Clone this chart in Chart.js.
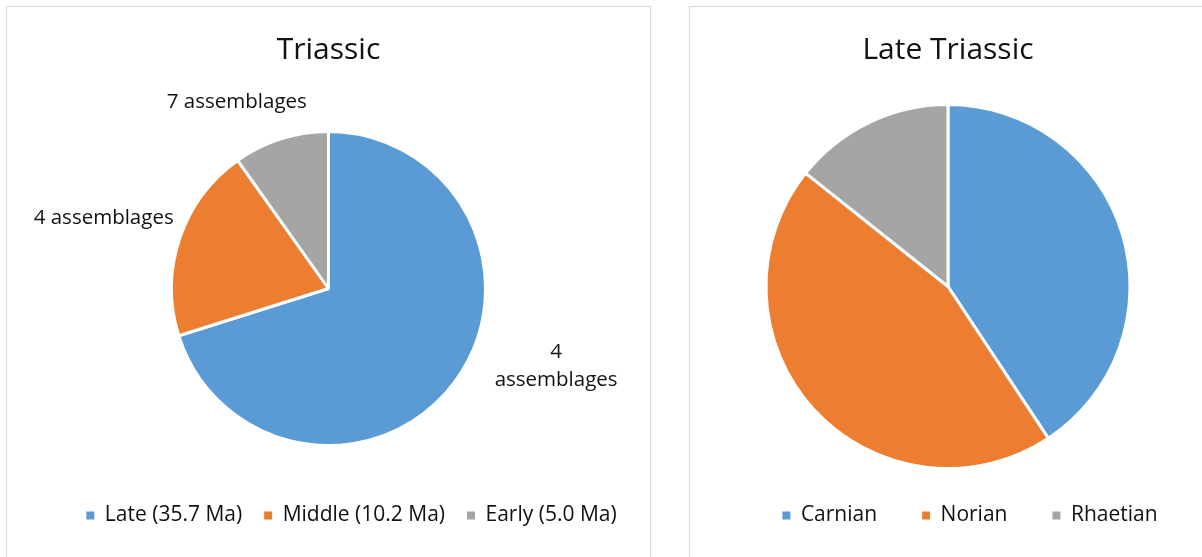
<!DOCTYPE html>
<html>
<head>
<meta charset="utf-8">
<title>Triassic assemblages</title>
<script src="https://cdn.jsdelivr.net/npm/chart.js@4"></script>
<style>
  html, body {
    margin: 0;
    padding: 0;
    background: #ffffff;
    overflow: hidden;
  }
  .panel {
    position: absolute;
    top: 6px;
    height: 600px;
    border: 1px solid #d9d9d9;
    background: #ffffff;
    overflow: hidden;
  }
  #panelTriassic { left: 6px; width: 643px; }
  #panelLate { left: 689px; width: 600px; }
  canvas { display: block; }
</style>
</head>
<body>

<div class="panel" id="panelTriassic">
  <canvas id="triassicChart" width="643" height="550"></canvas>
</div>
<div class="panel" id="panelLate">
  <canvas id="lateChart" width="516" height="550"></canvas>
</div>

<script>
/* =========================
   DATA
========================= */

const triassicLabels = ["Late (35.7 Ma)", "Middle (10.2 Ma)", "Early (5.0 Ma)"];
const triassicValues = [35.7, 10.2, 5.0];
const triassicNotes = [["4", "assemblages"], ["4 assemblages"], ["7 assemblages"]];

const lateLabels = ["Carnian", "Norian", "Rhaetian"];
const lateValues = [40.7, 45.0, 14.3];

const sliceColors = ["#5B9BD5", "#ED7D31", "#A5A5A5"];


/* =========================
   PLUGINS
========================= */

const FONT = "'Open Sans', 'Noto Sans', sans-serif";
const TEXT_COLOR = "#111111";

// text next to each slice, placed from the slice's outer midpoint
const sliceNotes = {
  id: "sliceNotes",
  afterDatasetsDraw(chart, args, opts) {
    if (!opts.notes) return;
    const { ctx } = chart;
    const arcs = chart.getDatasetMeta(0).data;

    ctx.save();
    ctx.font = `${opts.size}px ${FONT}`;
    ctx.fillStyle = TEXT_COLOR;
    ctx.textAlign = "center";
    ctx.textBaseline = "middle";

    arcs.forEach((arc, i) => {
      const lines = opts.notes[i];
      if (!lines) return;
      const { x, y, startAngle, endAngle, outerRadius } = arc.getProps(
        ["x", "y", "startAngle", "endAngle", "outerRadius"], true);
      const mid = (startAngle + endAngle) / 2;
      const shift = opts.shifts[i];
      const cx = x + Math.cos(mid) * outerRadius + shift[0];
      const cy = y + Math.sin(mid) * outerRadius + shift[1];
      const top = cy - (lines.length - 1) * opts.lineHeight / 2;
      lines.forEach((line, k) => ctx.fillText(line, cx, top + k * opts.lineHeight));
    });

    ctx.restore();
  }
};

// nudges the legend row sideways after layout
const legendNudge = {
  id: "legendNudge",
  afterLayout(chart, args, opts) {
    const dx = opts.dx || 0;
    chart.legend.left += dx;
    chart.legend.right += dx;
  }
};

// plain filled squares, without the slice's white outline
function squareLabels(chart) {
  const base = Chart.overrides.pie.plugins.legend.labels.generateLabels(chart);
  return base.map(item => ({ ...item, lineWidth: 0, strokeStyle: item.fillStyle }));
}


/* =========================
   CHARTS
========================= */

function makePie(canvasId, cfg) {
  return new Chart(document.getElementById(canvasId), {
    type: "pie",
    data: {
      labels: cfg.labels,
      datasets: [{
        data: cfg.values,
        backgroundColor: sliceColors,
        borderColor: "#ffffff",
        borderWidth: 3,
        radius: cfg.radius
      }]
    },
    options: {
      responsive: false,
      animation: false,
      events: [],
      layout: {
        padding: { top: 0, left: 0, right: 0, bottom: 21 }
      },
      plugins: {
        title: {
          display: true,
          text: cfg.title,
          color: TEXT_COLOR,
          font: { family: FONT, size: 30, weight: "normal" },
          padding: { top: 25, bottom: cfg.titleGap }
        },
        legend: {
          position: "bottom",
          labels: {
            color: TEXT_COLOR,
            font: { family: FONT, size: 21 },
            boxWidth: 8,
            boxHeight: 8,
            padding: cfg.legendGap,
            generateLabels: squareLabels
          }
        },
        tooltip: { enabled: false },
        legendNudge: { dx: cfg.legendShift },
        sliceNotes: {
          notes: cfg.notes,
          shifts: cfg.noteShifts,
          size: 20.5,
          lineHeight: 28
        }
      }
    },
    plugins: [legendNudge, sliceNotes]
  });
}

makePie("triassicChart", {
  title: "Triassic",
  labels: triassicLabels,
  values: triassicValues,
  notes: triassicNotes,
  noteShifts: [[101, -15], [-76, -20], [-44, -37]],
  radius: 157,
  titleGap: 26,
  legendGap: 22,
  legendShift: 23
});

makePie("lateChart", {
  title: "Late Triassic",
  labels: lateLabels,
  values: lateValues,
  notes: null,
  noteShifts: [],
  radius: 182,
  titleGap: 45,
  legendGap: 45,
  legendShift: 22
});
</script>
</body>
</html>
